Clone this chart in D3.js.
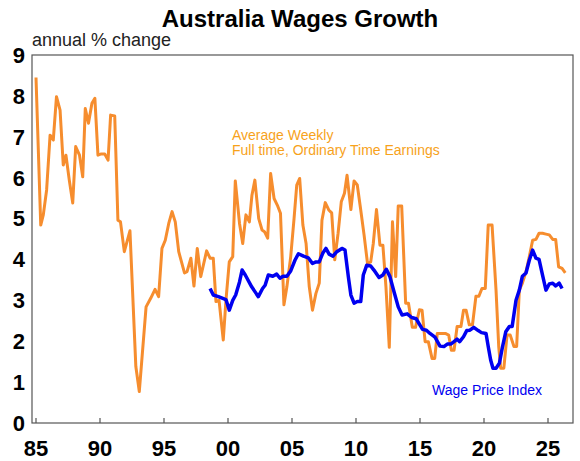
<!DOCTYPE html>
<html>
<head>
<meta charset="utf-8">
<script src="https://cdn.jsdelivr.net/npm/d3@7"></script>
<style>
  body { margin: 0; background: #fff; }
  text { font-family: "Liberation Sans", Arial, sans-serif; }
</style>
</head>
<body>
<svg width="580" height="461"></svg>
<script>
// Average Weekly Full-time Ordinary Time Earnings, annual % change
const aweYears = [1985.0, 1985.37, 1985.57, 1985.83, 1986.1, 1986.35, 1986.6, 1986.88, 1987.13, 1987.34,
  1987.6, 1987.87, 1988.1, 1988.4, 1988.65, 1988.85, 1989.1, 1989.37, 1989.6, 1989.84,
  1990.1, 1990.37, 1990.63, 1990.83, 1991.15, 1991.4, 1991.6, 1991.9, 1992.34, 1992.8,
  1993.07, 1993.6, 1993.96, 1994.3, 1994.58, 1994.84, 1995.1, 1995.37, 1995.63, 1995.88,
  1996.15, 1996.6, 1996.8, 1997.1, 1997.34, 1997.6, 1997.87, 1998.33, 1998.6, 1998.85,
  1999.06, 1999.3, 1999.63, 1999.84, 2000.1, 2000.37, 2000.57, 2000.9, 2001.15, 2001.4,
  2001.67, 2001.87, 2002.1, 2002.4, 2002.66, 2002.85, 2003.1, 2003.33, 2003.6, 2003.85,
  2004.1, 2004.37, 2004.6, 2004.9, 2005.16, 2005.37, 2005.6, 2005.85, 2006.1, 2006.35,
  2006.6, 2006.87, 2007.13, 2007.34, 2007.6, 2007.87, 2008.1, 2008.34, 2008.6, 2008.85,
  2009.1, 2009.3, 2009.6, 2009.85, 2010.1, 2010.37, 2010.63, 2010.9, 2011.15, 2011.35,
  2011.6, 2011.87, 2012.1, 2012.34, 2012.6, 2012.85, 2013.1, 2013.3, 2013.57, 2013.88,
  2014.1, 2014.4, 2014.65, 2014.95, 2015.16, 2015.4, 2015.65, 2015.94, 2016.15, 2016.35,
  2016.65, 2016.98, 2017.24, 2017.45, 2017.66, 2017.9, 2018.2, 2018.4, 2018.6, 2018.85,
  2019.1, 2019.37, 2019.6, 2019.84, 2020.1, 2020.33, 2020.63, 2020.94, 2021.15, 2021.3,
  2021.55, 2021.8, 2022.05, 2022.34, 2022.55, 2022.76, 2023.0, 2023.28, 2023.54, 2023.8,
  2024.06, 2024.3, 2024.57, 2024.84, 2025.1, 2025.37, 2025.6, 2025.83, 2026.1, 2026.35];
const aweValues = [8.45, 4.84, 5.09, 5.7, 7.04, 6.92, 7.98, 7.65, 6.31, 6.55,
  5.94, 5.38, 6.76, 6.55, 6.02, 7.69, 7.33, 7.82, 7.94, 6.55,
  6.58, 6.58, 6.43, 7.53, 7.51, 4.96, 4.92, 4.19, 4.7, 1.38,
  0.77, 2.84, 3.05, 3.27, 3.09, 4.27, 4.47, 4.88, 5.17, 4.92,
  4.19, 3.67, 3.7, 4.03, 3.35, 4.27, 3.58, 4.21, 4.03, 4.03,
  2.97, 3.0, 2.03, 3.0, 3.94, 4.07, 5.92, 4.88, 4.39, 5.09,
  4.92, 5.57, 5.94, 5.0, 4.72, 4.68, 4.52, 6.1, 5.49, 5.33,
  5.13, 2.89, 3.33, 4.07, 5.0, 5.82, 5.98, 4.84, 4.39, 3.33,
  2.76, 3.17, 3.42, 4.96, 5.39, 5.21, 5.14, 3.99, 4.64, 5.41,
  5.62, 6.06, 5.22, 5.92, 5.82, 5.21, 4.6, 3.9, 3.94, 4.39,
  5.22, 4.35, 4.35, 3.33, 1.85, 4.92, 3.58, 5.31, 5.31, 2.93,
  2.93, 2.34, 2.34, 2.77, 2.76, 1.99, 1.99, 1.58, 1.58, 2.19,
  2.19, 2.19, 2.15, 1.78, 1.78, 2.36, 2.36, 2.76, 2.76, 2.4,
  2.4, 3.1, 3.1, 3.29, 3.29, 4.84, 4.84, 3.25, 1.87, 1.34,
  1.34, 2.15, 2.15, 1.87, 1.87, 3.25, 3.42, 3.7, 4.07, 4.47,
  4.49, 4.64, 4.64, 4.62, 4.6, 4.49, 4.49, 3.82, 3.78, 3.67];

// Wage Price Index, annual % change
const wpiYears = [1998.6, 1998.85, 1999.25, 1999.84, 2000.1, 2000.37, 2000.6, 2000.9, 2001.1, 2001.35,
  2001.85, 2002.37, 2002.7, 2002.9, 2003.15, 2003.5, 2003.8, 2004.06, 2004.3, 2004.6,
  2004.9, 2005.23, 2005.5, 2005.9, 2006.27, 2006.6, 2006.87, 2007.13, 2007.4, 2007.65,
  2007.9, 2008.2, 2008.5, 2008.9, 2009.14, 2009.4, 2009.6, 2009.85, 2010.1, 2010.37,
  2010.57, 2010.84, 2011.15, 2011.4, 2011.8, 2012.1, 2012.37, 2012.65, 2012.97, 2013.3,
  2013.6, 2014.0, 2014.35, 2014.7, 2014.95, 2015.2, 2015.5, 2015.78, 2016.17, 2016.56,
  2016.87, 2017.13, 2017.4, 2017.66, 2017.9, 2018.1, 2018.4, 2018.65, 2018.9, 2019.2,
  2019.55, 2019.8, 2020.16, 2020.33, 2020.52, 2020.7, 2020.94, 2021.2, 2021.45, 2021.7,
  2021.98, 2022.2, 2022.5, 2022.76, 2023.0, 2023.28, 2023.54, 2023.8, 2024.06, 2024.3,
  2024.6, 2024.84, 2025.1, 2025.37, 2025.6, 2025.87, 2026.1];
const wpiValues = [3.29, 3.13, 3.09, 3.02, 2.76, 3.0, 3.13, 3.45, 3.74, 3.62,
  3.33, 3.09, 3.29, 3.37, 3.62, 3.59, 3.64, 3.54, 3.59, 3.59,
  3.72, 3.98, 4.14, 4.08, 4.04, 3.9, 3.94, 3.94, 4.15, 4.27,
  4.13, 4.08, 4.19, 4.27, 4.23, 3.58, 3.13, 2.93, 2.97, 2.97,
  3.62, 3.86, 3.84, 3.74, 3.56, 3.62, 3.76, 3.58, 3.21, 2.84,
  2.64, 2.67, 2.58, 2.55, 2.42, 2.29, 2.27, 2.19, 2.1, 1.88,
  1.87, 1.93, 1.93, 1.99, 2.05, 1.99, 2.11, 2.26, 2.27, 2.34,
  2.26, 2.21, 2.19, 1.87, 1.54, 1.34, 1.34, 1.46, 1.87, 2.23,
  2.36, 2.36, 3.0, 3.25, 3.59, 3.67, 3.98, 4.23, 4.03, 4.0,
  3.58, 3.25, 3.4, 3.42, 3.35, 3.42, 3.29];

const yTicks = [0, 1, 2, 3, 4, 5, 6, 7, 8, 9];
const xTicks = [1985, 1990, 1995, 2000, 2005, 2010, 2015, 2020, 2025];
const xTickLabels = ["85", "90", "95", "00", "05", "10", "15", "20", "25"];

const svg = d3.select("svg");
const plotLeft = 32;
const plotRight = 573;
const plotTop = 55;
const plotBottom = 423;

// 1985 sits just inside the left edge, 2025 near the right
const x = d3.scaleLinear()
  .domain([1985, 2025])
  .range([36, 548]);
const y = d3.scaleLinear()
  .domain([0, 9])
  .range([plotBottom, plotTop]);

svg.append("text")
  .attr("x", 300)
  .attr("y", 27)
  .attr("text-anchor", "middle")
  .attr("font-size", 24)
  .attr("font-weight", "bold")
  .text("Australia Wages Growth");

svg.append("text")
  .attr("x", 32)
  .attr("y", 46)
  .attr("font-size", 18)
  .attr("fill", "#222")
  .text("annual % change");

// frame
svg.append("rect")
  .attr("x", plotLeft)
  .attr("y", plotTop)
  .attr("width", plotRight - plotLeft)
  .attr("height", plotBottom - plotTop)
  .attr("fill", "none")
  .attr("stroke", "#555")
  .attr("stroke-width", 1.2);

// y tick labels
svg.append("g")
  .selectAll("text")
  .data(yTicks)
  .join("text")
  .attr("x", 25)
  .attr("y", d => y(d))
  .attr("dy", "0.36em")
  .attr("text-anchor", "end")
  .attr("font-size", 22)
  .attr("font-weight", "bold")
  .text(d => d);

// x ticks point upward from the bottom edge
svg.append("g")
  .selectAll("line")
  .data(xTicks)
  .join("line")
  .attr("x1", d => x(d))
  .attr("x2", d => x(d))
  .attr("y1", plotBottom)
  .attr("y2", plotBottom - 5)
  .attr("stroke", "#555")
  .attr("stroke-width", 1.2);

svg.append("g")
  .selectAll("text")
  .data(xTicks)
  .join("text")
  .attr("x", d => x(d))
  .attr("y", 456)
  .attr("text-anchor", "middle")
  .attr("font-size", 22)
  .attr("font-weight", "bold")
  .text((d, i) => xTickLabels[i]);

const line = d3.line()
  .x(d => x(d[0]))
  .y(d => y(d[1]));

const awe = aweYears.map((d, i) => [d, aweValues[i]]);
const wpi = wpiYears.map((d, i) => [d, wpiValues[i]]);

svg.append("path")
  .datum(awe)
  .attr("d", line)
  .attr("fill", "none")
  .attr("stroke", "#F68D2E")
  .attr("stroke-width", 3)
  .attr("stroke-linejoin", "round");

svg.append("path")
  .datum(wpi)
  .attr("d", line)
  .attr("fill", "none")
  .attr("stroke", "#0000F0")
  .attr("stroke-width", 3.5)
  .attr("stroke-linejoin", "round");

const aweLabel = svg.append("text")
  .attr("x", 232)
  .attr("y", 140)
  .attr("font-size", 14)
  .attr("fill", "#F7A21B");
aweLabel.append("tspan").attr("x", 232).text("Average Weekly");
aweLabel.append("tspan").attr("x", 232).attr("dy", 15).text("Full time, Ordinary Time Earnings");

svg.append("text")
  .attr("x", 432)
  .attr("y", 395)
  .attr("font-size", 14)
  .attr("fill", "#0000F0")
  .text("Wage Price Index");
</script>
</body>
</html>
